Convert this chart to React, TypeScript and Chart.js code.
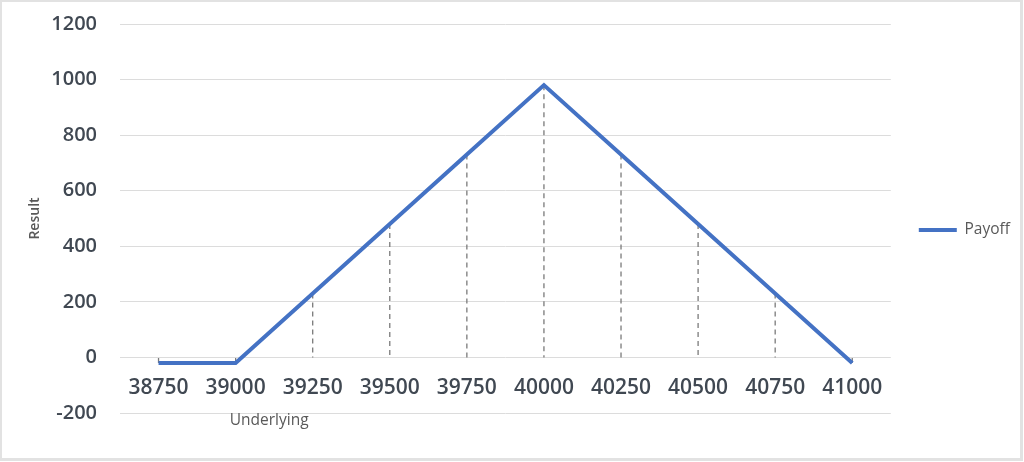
import React, { useEffect, useRef } from "react";
import { Chart, registerables } from "chart.js";

Chart.register(...registerables);

const categories = ["38750", "39000", "39250", "39500", "39750", "40000", "40250", "40500", "40750", "41000"];
const payoff = [-20, -20, 230, 480, 730, 980, 730, 480, 230, -20];
const yMin = -200;
const yMax = 1200;
const yStep = 200;
const seriesName = "Payoff";
const xTitle = "Underlying";
const yTitle = "Result";

const tickColor = "#404852";
const textGray = "#595959";

const frame = {
  id: "frame",
  beforeDraw(chart: any) {
    const { ctx, width, height } = chart;
    ctx.save();
    ctx.fillStyle = "#ffffff";
    ctx.fillRect(0, 0, width, height);
    ctx.strokeStyle = "#e2e2e2";
    ctx.lineWidth = 3;
    ctx.strokeRect(0.5, 0.5, width - 3, height - 3);
    ctx.restore();
  },
};

const dropLines = {
  id: "dropLines",
  beforeDatasetsDraw(chart: any) {
    const { ctx } = chart;
    const meta = chart.getDatasetMeta(0);
    const y0 = chart.scales.y.getPixelForValue(0);
    ctx.save();
    ctx.strokeStyle = "#7a7a7a";
    ctx.lineWidth = 1.3;
    ctx.setLineDash([5, 4]);
    meta.data.forEach((pt: any) => {
      ctx.beginPath();
      ctx.moveTo(pt.x, pt.y);
      ctx.lineTo(pt.x, y0);
      ctx.stroke();
    });
    ctx.restore();
  },
};

const xTitlePlugin = {
  id: "xTitlePlugin",
  afterDraw(chart: any) {
    const { ctx } = chart;
    const xs = chart.scales.x;
    const ys = chart.scales.y;
    const cx = (xs.getPixelForValue(1) + xs.getPixelForValue(2)) / 2 - 5;
    const cy = ys.getPixelForValue(yMin) + 8;
    ctx.save();
    ctx.fillStyle = textGray;
    ctx.font = "15.5px 'Open Sans'";
    ctx.textAlign = "center";
    ctx.textBaseline = "middle";
    ctx.fillText(xTitle, cx, cy);
    ctx.restore();
  },
};

export default function App() {
  const ref = useRef<HTMLCanvasElement | null>(null);

  useEffect(() => {
    if (!ref.current) return;
    const chart = new Chart(ref.current, {
      type: "line",
      data: {
        labels: categories,
        datasets: [
          {
            label: seriesName,
            data: payoff,
            borderColor: "#4472C4",
            backgroundColor: "#4472C4",
            borderWidth: 4,
            pointRadius: 0,
            tension: 0,
          },
        ],
      },
      options: {
        animation: false,
        responsive: false,
        maintainAspectRatio: false,
        layout: { padding: { left: 0, right: 4, top: 24, bottom: 49 } },
        plugins: {
          tooltip: { enabled: false },
          legend: {
            position: "right",
            title: {
              display: true,
              text: "",
              font: { size: 10 },
              padding: { top: 11, bottom: 0 },
            },
            labels: {
              usePointStyle: true,
              pointStyle: "line",
              pointStyleWidth: 38,
              padding: 28,
              color: textGray,
              font: { family: "'Open Sans'", size: 15.5 },
            },
          },
        },
        scales: {
          x: {
            type: "category",
            offset: true,
            position: { y: 0 } as any,
            grid: { display: false, drawTicks: false },
            border: { display: false },
            ticks: {
              padding: 18,
              color: tickColor,
              font: { family: "'Open Sans'", size: 21, weight: 600 as any },
              maxRotation: 0,
              autoSkip: false,
            },
          },
          y: {
            min: yMin,
            max: yMax,
            afterFit(scale: any) {
              scale.width = 120;
              scale.paddingTop = 0;
              scale.paddingBottom = 0;
            },
            grid: { color: "#dcdcdc", lineWidth: 1, drawTicks: false },
            border: { display: false },
            ticks: {
              stepSize: yStep,
              padding: 23,
              color: tickColor,
              font: { family: "'Open Sans'", size: 20, weight: 600 as any },
              callback: (v: any) => String(v),
            },
            title: {
              display: true,
              text: yTitle,
              color: textGray,
              padding: { top: 27, bottom: 0 },
              font: { family: "'Open Sans'", size: 14, weight: 600 as any },
            },
          },
        },
      },
      plugins: [frame, dropLines, xTitlePlugin],
    });
    return () => chart.destroy();
  }, []);

  return (
    <div style={{ position: "absolute", left: 0, top: 0, width: 1024, height: 462 }}>
      <canvas ref={ref} width={1024} height={462} style={{ width: 1024, height: 462, display: "block" }} />
    </div>
  );
}
